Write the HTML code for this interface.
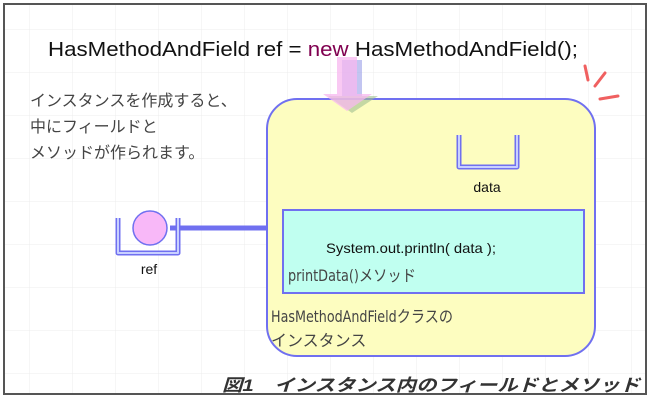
<!DOCTYPE html>
<html><head><meta charset="utf-8"><style>
body{margin:0;width:650px;height:400px;overflow:hidden;background:#fff;}
svg{display:block}
</style></head><body>
<svg width="650" height="400" xmlns="http://www.w3.org/2000/svg">
<defs>
<pattern id="g" width="43" height="43" patternUnits="userSpaceOnUse" x="-13" y="-13">
<path d="M43 0V43M0 43H43" stroke="#ececec" stroke-width="1" fill="none"/>
</pattern>
</defs>
<rect x="0" y="0" width="650" height="400" fill="#fff"/>
<rect x="5" y="5" width="640" height="388" fill="url(#g)"/>
<rect x="4" y="4" width="642" height="390" fill="none" stroke="#555" stroke-width="2"/>
<text x="48" y="56" font-family="Liberation Sans, sans-serif" font-size="20" fill="#111" textLength="530" lengthAdjust="spacingAndGlyphs">HasMethodAndField ref = <tspan fill="#800050">new</tspan> HasMethodAndField();</text>
<g stroke="#f06060" stroke-width="3" stroke-linecap="round">
<line x1="585" y1="66" x2="588" y2="80"/>
<line x1="605" y1="73" x2="595" y2="86"/>
<line x1="600" y1="99" x2="618" y2="96"/>
</g>
<text font-family="Liberation Sans, 'Noto Sans CJK JP', sans-serif" font-size="16" fill="#444">
<tspan x="30" y="106">インスタンスを作成すると、</tspan>
<tspan x="30" y="132">中にフィールドと</tspan>
<tspan x="30" y="158">メソッドが作られます。</tspan>
</text>
<rect x="267" y="99" width="328" height="257" rx="30" fill="#fdfdc0" stroke="#7070f0" stroke-width="2"/>
<g opacity="0.6">
<rect x="342" y="60" width="20" height="36" fill="#9aa0e8"/>
<polygon points="328,96 378,96 352,113" fill="#a0c090"/>
</g>
<g opacity="0.75">
<rect x="337" y="57" width="20" height="38" fill="#f8b8f0"/>
<polygon points="323,94 372,94 347,111" fill="#f8b8f0"/>
</g>
<path d="M459 135V167H517V135" fill="none" stroke="#7070f0" stroke-width="5" stroke-linejoin="round"/>
<path d="M459 135V167H517V135" fill="none" stroke="#c8d0ff" stroke-width="2" stroke-linejoin="round"/>
<text x="487" y="192" text-anchor="middle" font-family="Liberation Sans, sans-serif" font-size="14" fill="#111">data</text>
<rect x="283" y="210" width="301" height="83" fill="#c0fff0" stroke="#7070f0" stroke-width="2"/>
<text x="326" y="253" font-family="Liberation Sans, sans-serif" font-size="14" fill="#111" textLength="170" lengthAdjust="spacingAndGlyphs">System.out.println( data );</text>
<text x="288" y="281" font-family="'DejaVu Sans Condensed','Liberation Sans Narrow','Noto Sans CJK JP',sans-serif" font-size="16" fill="#444" textLength="128" lengthAdjust="spacingAndGlyphs">printData()メソッド</text>
<text font-family="'DejaVu Sans Condensed','Liberation Sans Narrow','Noto Sans CJK JP',sans-serif" font-size="16" fill="#444">
<tspan x="271" y="322" textLength="182" lengthAdjust="spacingAndGlyphs">HasMethodAndFieldクラスの</tspan>
<tspan x="271" y="346">インスタンス</tspan>
</text>
<line x1="170" y1="228" x2="267" y2="228" stroke="#7070f0" stroke-width="5"/>
<path d="M118 218V253H178V218" fill="none" stroke="#7070f0" stroke-width="5" stroke-linejoin="round"/>
<path d="M118 218V253H178V218" fill="none" stroke="#c8d0ff" stroke-width="2" stroke-linejoin="round"/>
<circle cx="150" cy="228" r="17" fill="#f8b8f8" stroke="#7070f0" stroke-width="1.5"/>
<text x="149" y="274" text-anchor="middle" font-family="Liberation Sans, sans-serif" font-size="14" fill="#111">ref</text>
<text x="222" y="391" font-family="'Liberation Sans','Noto Sans CJK JP',sans-serif" font-size="17" font-style="italic" font-weight="bold" fill="#333" textLength="418" lengthAdjust="spacingAndGlyphs">図1　インスタンス内のフィールドとメソッド</text>
</svg>
</body></html>
